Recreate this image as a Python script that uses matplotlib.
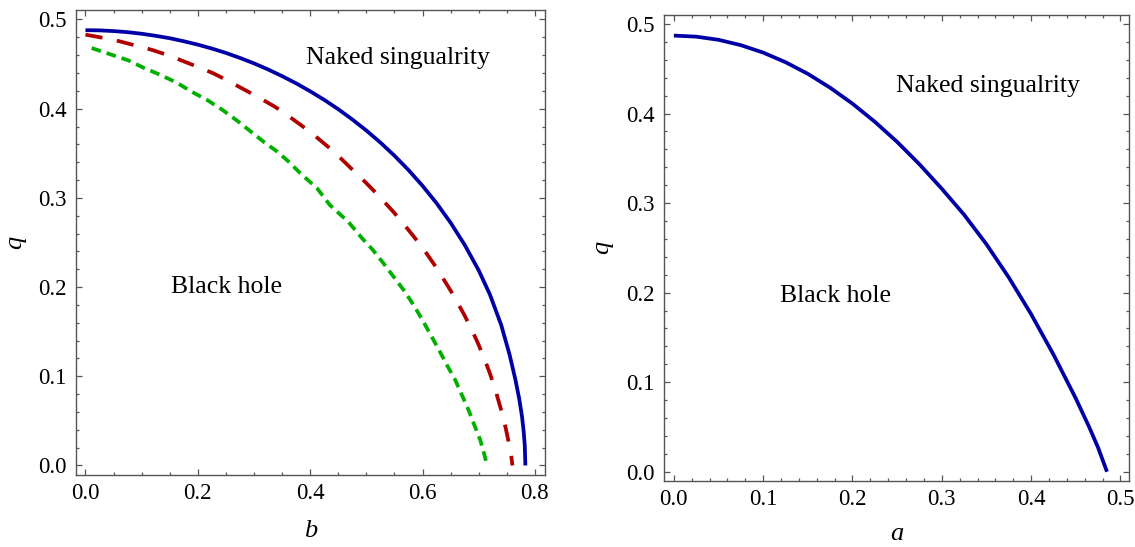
import matplotlib
matplotlib.use('Agg')
import matplotlib.pyplot as plt
from matplotlib.ticker import MultipleLocator

plt.rcParams['font.family'] = 'Liberation Serif'

# left panel, q against b
b_solid = [0, 0.025, 0.05, 0.075, 0.1, 0.125, 0.15, 0.175, 0.2, 0.225, 0.25, 0.275,
           0.3, 0.325, 0.35, 0.375, 0.4, 0.425, 0.45, 0.475, 0.5, 0.525, 0.55, 0.575,
           0.6, 0.625, 0.65, 0.675, 0.7, 0.72, 0.74, 0.755, 0.765, 0.772, 0.777,
           0.78, 0.782, 0.783]
q_solid = [0.488, 0.4878, 0.487, 0.4858, 0.484, 0.4817, 0.479, 0.4756, 0.4718, 0.4674,
           0.4625, 0.4569, 0.4508, 0.444, 0.4365, 0.4284, 0.4195, 0.4099, 0.3994,
           0.3879, 0.3755, 0.362, 0.3473, 0.3312, 0.3135, 0.294, 0.2721, 0.2473,
           0.2187, 0.1915, 0.1575, 0.124, 0.097, 0.075, 0.055, 0.038, 0.022, 0.0]

b_long = [0.0, 0.05, 0.1, 0.118, 0.15, 0.2, 0.228, 0.25, 0.3, 0.335, 0.35, 0.4, 0.438,
          0.45, 0.5, 0.524, 0.55, 0.575, 0.599, 0.625, 0.65, 0.661, 0.675, 0.69, 0.7,
          0.711, 0.72, 0.73, 0.74, 0.748, 0.754, 0.758, 0.76]
q_long = [0.483, 0.4773, 0.469, 0.466, 0.4593, 0.4468, 0.4395, 0.4325, 0.4155, 0.403,
          0.397, 0.374, 0.354, 0.347, 0.3165, 0.301, 0.283, 0.264, 0.245, 0.2215,
          0.196, 0.184, 0.168, 0.149, 0.135, 0.118, 0.103, 0.084, 0.062, 0.042,
          0.024, 0.010, 0.0]

b_short = [0.011, 0.044, 0.077, 0.103, 0.133, 0.163, 0.189, 0.216, 0.243, 0.269,
           0.293, 0.317, 0.341, 0.361, 0.385, 0.412, 0.435, 0.468, 0.492, 0.511,
           0.530, 0.548, 0.566, 0.584, 0.599, 0.613, 0.628, 0.643, 0.658, 0.670,
           0.682, 0.693, 0.703, 0.710, 0.715]
q_short = [0.468, 0.461, 0.454, 0.446, 0.438, 0.429, 0.419, 0.410, 0.399, 0.387,
           0.375, 0.363, 0.352, 0.341, 0.326, 0.311, 0.292, 0.273, 0.255, 0.242,
           0.227, 0.212, 0.197, 0.180, 0.164, 0.148, 0.131, 0.113, 0.096, 0.079,
           0.062, 0.044, 0.028, 0.012, 0.0]

# right panel, q against a
a_vals = [0, 0.025, 0.05, 0.075, 0.1, 0.125, 0.15, 0.175, 0.2, 0.225, 0.25, 0.275,
          0.3, 0.325, 0.35, 0.375, 0.4, 0.425, 0.45, 0.465, 0.475, 0.485]
q_vals = [0.487, 0.4858, 0.4823, 0.4763, 0.468, 0.4573, 0.4443, 0.4288, 0.411,
          0.3908, 0.3683, 0.3433, 0.316, 0.287, 0.254, 0.217, 0.176, 0.131, 0.082,
          0.050, 0.027, 0.0]

blue = '#0000a6'
red = '#b00000'
green = '#00b000'
frame = '#555555'
lw = 2.7


def style_axes(ax, xmajor, xminor):
    ax.xaxis.set_major_locator(MultipleLocator(xmajor))
    ax.xaxis.set_minor_locator(MultipleLocator(xminor))
    ax.yaxis.set_major_locator(MultipleLocator(0.1))
    ax.yaxis.set_minor_locator(MultipleLocator(0.02))
    ax.tick_params(which='both', direction='in', top=True, right=True,
                   color=frame, width=0.9)
    ax.tick_params(which='major', length=4.5, labelsize=16.5)
    ax.tick_params(which='minor', length=2.5)
    ax.tick_params(axis='x', pad=6)
    ax.tick_params(axis='y', pad=7)
    for sp in ax.spines.values():
        sp.set_color(frame)
        sp.set_linewidth(1.0)
    ax.xaxis.set_major_formatter(plt.FuncFormatter(lambda v, p: '%.1f' % v))
    ax.yaxis.set_major_formatter(plt.FuncFormatter(lambda v, p: '%.1f' % v))


fig = plt.figure(figsize=(11.35, 5.47), dpi=100)
ax1 = fig.add_axes([0.0674, 0.1316, 0.4128, 0.8507])
ax2 = fig.add_axes([0.5853, 0.1212, 0.4097, 0.8514])

ax1.plot(b_solid, q_solid, color=blue, lw=lw, solid_capstyle='butt')
ax1.plot(b_long, q_long, color=red, lw=lw, dashes=(4.6, 3.9), dash_capstyle='butt')
ax1.plot(b_short, q_short, color=green, lw=lw, dashes=(2.6, 1.6), dash_capstyle='butt')
ax1.set_xlim(-0.016, 0.818)
ax1.set_ylim(-0.0107, 0.511)
style_axes(ax1, 0.2, 0.05)
ax1.set_xlabel('b', fontsize=19, style='italic', labelpad=11)
ax1.set_ylabel('q', fontsize=19, style='italic', labelpad=9)
ax1.text(0.557, 0.450, 'Naked singualrity', fontsize=18.5, ha='center', va='baseline')
ax1.text(0.2515, 0.193, 'Black hole', fontsize=18.5, ha='center', va='baseline')

ax2.plot(a_vals, q_vals, color=blue, lw=lw, solid_capstyle='butt')
ax2.set_xlim(-0.0107, 0.510)
ax2.set_ylim(-0.010, 0.510)
style_axes(ax2, 0.1, 0.02)
ax2.set_xlabel('a', fontsize=19, style='italic', labelpad=9)
ax2.set_ylabel('q', fontsize=19, style='italic', labelpad=9)
ax2.text(0.352, 0.424, 'Naked singualrity', fontsize=18.5, ha='center', va='baseline')
ax2.text(0.1814, 0.190, 'Black hole', fontsize=18.5, ha='center', va='baseline')

fig.savefig('out.png', dpi=100)
